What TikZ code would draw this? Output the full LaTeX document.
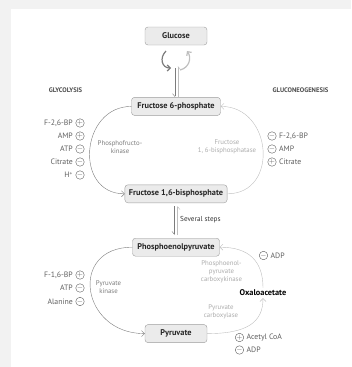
\documentclass[tikz,border=0pt]{standalone}
\usepackage{fontspec}
\setmainfont{PT Sans}
\usetikzlibrary{positioning,arrows.meta}

\definecolor{panelgray}{HTML}{F2F2F2}
\definecolor{boxfill}{HTML}{EBEBEB}
\definecolor{boxline}{HTML}{9C9C9C}
\definecolor{glyco}{HTML}{7C7C7C}
\definecolor{gluco}{HTML}{BEBEBE}
\definecolor{regtext}{HTML}{5E5E5E}

\begin{document}
\begin{tikzpicture}[x=1pt, y=-1pt, met/.style={rectangle, rounded corners=3pt, draw=boxline, fill=boxfill, minimum height=18pt, inner xsep=4pt, text=black!85, font=\fontsize{8.3}{9}\selectfont\bfseries}, enzgly/.style={align=center, text=glyco, inner sep=0pt, font=\fontsize{6.8}{8}\selectfont}, enzgn/.style={align=center, text=gluco!90!black, inner sep=0pt, font=\fontsize{6.8}{7.8}\selectfont}, reg/.style={circle, draw=regtext, text=regtext, inner sep=0pt, minimum size=8.5pt, font=\fontsize{7.5}{7.5}\selectfont}, regtxt/.style={text=regtext, inner sep=0pt, font=\fontsize{7.8}{8}\selectfont}, path/.style={font=\fontsize{6.6}{7}\selectfont\bfseries, text=black!70}, glyarr/.style={draw=glyco, -{Straight Barb[length=3pt,width=6pt]}}, gnarr/.style={draw=gluco, -{Straight Barb[length=3pt,width=6pt]}}, node distance = 52pt]
      \useasboundingbox (0,0) rectangle (351,367);
      \fill[panelgray] (0,0) rectangle (351,9);
      \fill[panelgray] (0,0) rectangle (11,367);

      % main column
      \node [met, minimum width=62pt] (glucose) at (176,36) {Glucose};

      \node [met, minimum width=89pt, below = of glucose] (f6p) {Fructose 6-phosphate};

      \node [met, minimum width=102pt, below = 69pt of f6p] (f16bp) {Fructose 1,6-bisphosphate};

      \node [met, minimum width=87pt, below = 35pt of f16bp] (pep) {Phosphoenolpyruvate};

      \node [met, minimum width=62pt, below = 68pt of pep] (pyr) {Pyruvate};

      \node [font=\fontsize{8.3}{9}\selectfont\bfseries, inner sep=2pt] (oaa) at (263,293) {Oxaloacetate};

      \node [path] (glyc) at (65.5,90) {GLYCOLYSIS};

      \node [path] (gneo) at (300.5,90.5) {GLUCONEOGENESIS};

      % enzymes
      \node [enzgly] (pfk) at (120,147) {Phosphofructo-\\kinase};

      \node [enzgn] (fbp) at (227,147) {Fructose\\1, 6-bisphosphatase};

      \node [enzgly] (pk) at (108.5,287) {Pyruvate\\kinase};

      \node [enzgn] (pepck) at (221.5,271.5) {Phosphoenol-\\pyruvate\\carboxykinase};

      \node [enzgn] (pc) at (221,312) {Pyruvate\\carboxylase};

      \node [regtxt, right = 4pt of f16bp.south, anchor=west, yshift=-16.5pt, text=black!80, font=\fontsize{7.2}{8}\selectfont] (steps) {Several steps};

      % regulators of phosphofructokinase
      \node [reg] (r1) at (80,123) {$+$};
      \node [regtxt, left = 2.5pt of r1] (r1t) {F-2,6-BP};
      \node [reg] (r2) at (80,136) {$+$};
      \node [regtxt, left = 2.5pt of r2] (r2t) {AMP};
      \node [reg] (r3) at (80,149) {$-$};
      \node [regtxt, left = 2.5pt of r3] (r3t) {ATP};
      \node [reg] (r4) at (80,162) {$-$};
      \node [regtxt, left = 2.5pt of r4] (r4t) {Citrate};
      \node [reg] (r5) at (80,175) {$-$};
      \node [regtxt, left = 2.5pt of r5] (r5t) {H\textsuperscript{+}};

      % regulators of fructose 1,6-bisphosphatase
      \node [reg] (s1) at (272,136) {$-$};
      \node [regtxt, right = 2.5pt of s1] (s1t) {F-2,6-BP};
      \node [reg] (s2) at (272,149) {$-$};
      \node [regtxt, right = 2.5pt of s2] (s2t) {AMP};
      \node [reg] (s3) at (272,162) {$+$};
      \node [regtxt, right = 2.5pt of s3] (s3t) {Citrate};

      % regulators of pyruvate kinase
      \node [reg] (p1) at (80,275) {$+$};
      \node [regtxt, left = 2.5pt of p1] (p1t) {F-1,6-BP};
      \node [reg] (p2) at (80,288) {$-$};
      \node [regtxt, left = 2.5pt of p2] (p2t) {ATP};
      \node [reg] (p3) at (80,301.5) {$-$};
      \node [regtxt, left = 2.5pt of p3] (p3t) {Alanine};

      % regulators of carboxylase and carboxykinase
      \node [reg] (c1) at (263.5,255.5) {$-$};
      \node [regtxt, right = 2.5pt of c1] (c1t) {ADP};
      \node [reg] (c2) at (239.5,337.5) {$+$};
      \node [regtxt, right = 2.5pt of c2] (c2t) {Acetyl CoA};
      \node [reg] (c3) at (239.5,350) {$-$};
      \node [regtxt, right = 2.5pt of c3] (c3t) {ADP};

      % glucose cycle
      \coordinate (loopA) at (166,51);
      \coordinate (loopB) at (171,68);
      \coordinate (loopC) at (180,70);
      \coordinate (loopD) at (187,51);
      \coordinate (eqTop) at (175,68);
      \coordinate (eqTopB) at (178,66);

      \draw[glyarr, line width=1.2pt] (loopA) .. controls (159,58) and (162,68) .. (loopB);
      \draw[gnarr, line width=1.2pt] (loopC) .. controls (189,68) and (192,58) .. (loopD);

      \draw[glyco, -{Straight Barb[harpoon,swap,length=3pt,width=5pt]}] (eqTop) -- (eqTop |- f6p.north);
      \draw[gluco, -{Straight Barb[harpoon,swap,length=3pt,width=5pt]}] (eqTopB |- f6p.north) -- (eqTopB);

      \draw[glyco, -{Straight Barb[harpoon,swap,length=3pt,width=5pt]}] ([xshift=-1.5pt,yshift=-3pt]f16bp.south) -- ([xshift=-1.5pt,yshift=3pt]pep.north);
      \draw[gluco, -{Straight Barb[harpoon,swap,length=3pt,width=5pt]}] ([xshift=1.5pt,yshift=3pt]pep.north) -- ([xshift=1.5pt,yshift=-3pt]f16bp.south);

      % cycles
      \draw[glyarr] (f6p.west) .. controls +(-51,0) and +(-51,0) .. (f16bp.west);
      \draw[gnarr] (f16bp.east) .. controls +(52,0) and +(52,0) .. (f6p.east);

      \draw[glyarr] (pep.west) .. controls +(-64,0) and +(-64,0) .. (pyr.west);
      \draw[gnarr] (pyr.east) .. controls +(40,0) and +(0,24) .. (oaa.south);
      \draw[gnarr] (oaa.north) .. controls +(0,-26) and +(30,0) .. (pep.east);
    \end{tikzpicture}
\end{document}
